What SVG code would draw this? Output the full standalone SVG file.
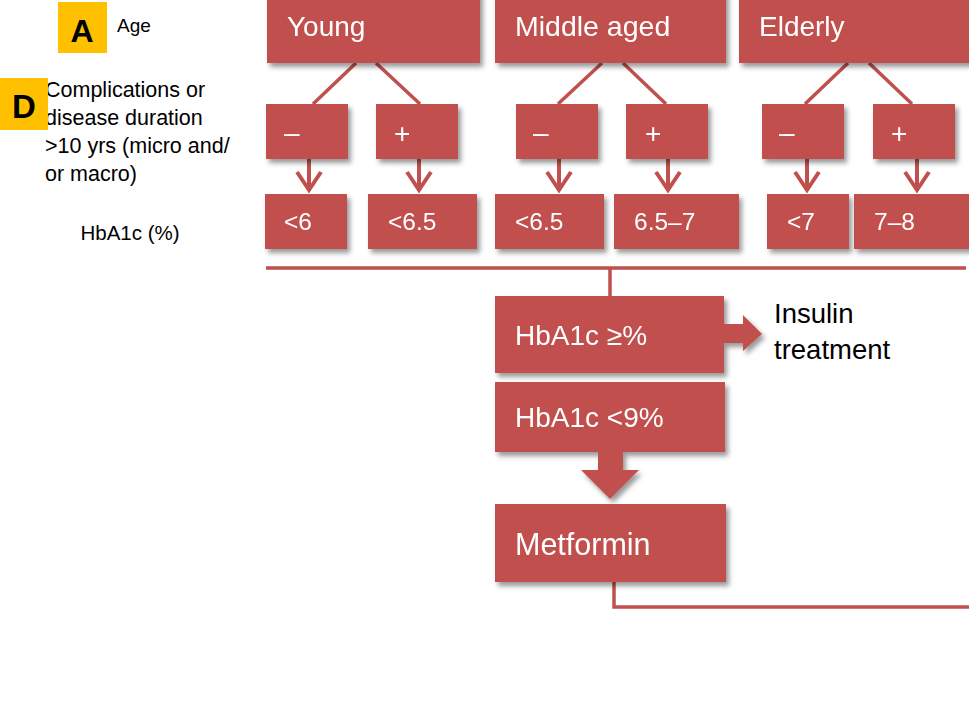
<svg xmlns="http://www.w3.org/2000/svg" width="969" height="707" viewBox="0 0 969 707">
<defs>
<filter id="sh" x="-10%" y="-10%" width="125%" height="140%">
<feDropShadow dx="3" dy="4" stdDeviation="2.5" flood-color="#000" flood-opacity="0.4"/>
</filter>
<style>
.b{fill:#C0504D;}
.t{fill:#fff;font-family:"Liberation Sans",Arial,sans-serif;}
.k{fill:#000;font-family:"Liberation Sans",Arial,sans-serif;}
.ln{stroke:#C0504D;fill:none;stroke-width:3.5;}
.ar{stroke:#C0504D;fill:none;stroke-width:4;}
</style>
</defs>
<rect width="969" height="707" fill="#fff"/>

<g id="legend">
<rect x="58" y="2" width="49" height="51" fill="#FFC000"/>
<text x="82" y="42" text-anchor="middle" font-family="Liberation Sans,Arial,sans-serif" font-weight="bold" font-size="32" fill="#000">A</text>
<text class="k" x="117" y="32" font-size="19">Age</text>
<text class="k" font-size="21.5"><tspan x="45" y="97">Complications or</tspan><tspan x="45" y="124.5">disease duration</tspan><tspan x="45" y="152.5">&gt;10 yrs (micro and/</tspan><tspan x="45" y="181">or macro)</tspan></text>
<rect x="0" y="78" width="48" height="52" fill="#FFC000"/>
<text x="24" y="118" text-anchor="middle" font-family="Liberation Sans,Arial,sans-serif" font-weight="bold" font-size="33" fill="#000">D</text>
<text class="k" x="130" y="240" font-size="20.5" text-anchor="middle">HbA1c (%)</text>
</g>

<g id="connectors">
<line class="ln" x1="356" y1="63" x2="313" y2="104"/>
<line class="ln" x1="376" y1="63" x2="420" y2="104"/>
<line class="ln" x1="602" y1="63" x2="558" y2="104"/>
<line class="ln" x1="623" y1="63" x2="666" y2="104"/>
<line class="ln" x1="848" y1="63" x2="805" y2="104"/>
<line class="ln" x1="869" y1="63" x2="912" y2="104"/>
<g class="ar">
<path d="M309 159V191M297 172L309 190L321 172"/>
<path d="M419 159V191M407 172L419 190L431 172"/>
<path d="M559 159V191M547 172L559 190L571 172"/>
<path d="M668 159V191M656 172L668 190L680 172"/>
<path d="M807 159V191M795 172L807 190L819 172"/>
<path d="M917 159V191M905 172L917 190L929 172"/>
</g>
<path class="ln" d="M266 268H966M610 268V296"/>
<path class="ln" d="M614 582V607H969"/>
</g>

<g id="young" filter="url(#sh)">
<rect class="b" x="267" y="-10" width="213" height="73"/>
<text class="t" x="287" y="36" font-size="28">Young</text>
</g>
<g id="middle" filter="url(#sh)">
<rect class="b" x="495" y="-10" width="231" height="73"/>
<text class="t" x="515" y="36" font-size="28.5">Middle aged</text>
</g>
<g id="elderly" filter="url(#sh)">
<rect class="b" x="739" y="-10" width="240" height="73"/>
<text class="t" x="759" y="36" font-size="28">Elderly</text>
</g>

<g id="y-minus" filter="url(#sh)"><rect class="b" x="266" y="104" width="82" height="55"/><text class="t" x="284" y="142" font-size="28">–</text></g>
<g id="y-plus" filter="url(#sh)"><rect class="b" x="376" y="104" width="82" height="55"/><text class="t" x="394" y="143" font-size="28">+</text></g>
<g id="m-minus" filter="url(#sh)"><rect class="b" x="516" y="104" width="82" height="55"/><text class="t" x="533" y="142" font-size="28">–</text></g>
<g id="m-plus" filter="url(#sh)"><rect class="b" x="626" y="104" width="82" height="55"/><text class="t" x="645" y="143" font-size="28">+</text></g>
<g id="e-minus" filter="url(#sh)"><rect class="b" x="762" y="104" width="82" height="55"/><text class="t" x="779" y="142" font-size="28">–</text></g>
<g id="e-plus" filter="url(#sh)"><rect class="b" x="873" y="104" width="82" height="55"/><text class="t" x="891" y="143" font-size="28">+</text></g>

<g id="v-y1" filter="url(#sh)"><rect class="b" x="265" y="194" width="82" height="55"/><text class="t" x="284" y="230" font-size="24.5">&lt;6</text></g>
<g id="v-y2" filter="url(#sh)"><rect class="b" x="368" y="194" width="109" height="55"/><text class="t" x="388" y="230" font-size="24.5">&lt;6.5</text></g>
<g id="v-m1" filter="url(#sh)"><rect class="b" x="495" y="194" width="109" height="55"/><text class="t" x="515" y="230" font-size="24.5">&lt;6.5</text></g>
<g id="v-m2" filter="url(#sh)"><rect class="b" x="614" y="194" width="125" height="55"/><text class="t" x="634" y="230" font-size="24.5">6.5–7</text></g>
<g id="v-e1" filter="url(#sh)"><rect class="b" x="767" y="194" width="82" height="55"/><text class="t" x="787" y="230" font-size="24.5">&lt;7</text></g>
<g id="v-e2" filter="url(#sh)"><rect class="b" x="854" y="194" width="125" height="55"/><text class="t" x="874" y="230" font-size="24.5">7–8</text></g>

<g id="hba1c-high" filter="url(#sh)">
<rect class="b" x="495" y="296" width="229" height="77"/>
<path class="b" d="M723 324H743V315L762 334L743 351V343H723Z"/>
<text class="t" x="515" y="345" font-size="28">HbA1c ≥%</text>
</g>
<g id="insulin">
<text class="k" font-size="27.5"><tspan x="774" y="323">Insulin</tspan><tspan x="774" y="359">treatment</tspan></text>
</g>
<g id="hba1c-low" filter="url(#sh)">
<rect class="b" x="495" y="382" width="230" height="70"/>
<path class="b" d="M598 451V470H581L610 499L639 470H623V451Z"/>
<text class="t" x="515" y="427" font-size="28">HbA1c &lt;9%</text>
</g>
<g id="metformin" filter="url(#sh)">
<rect class="b" x="495" y="504" width="231" height="78"/>
<text class="t" x="515" y="555" font-size="30.5">Metformin</text>
</g>
</svg>
